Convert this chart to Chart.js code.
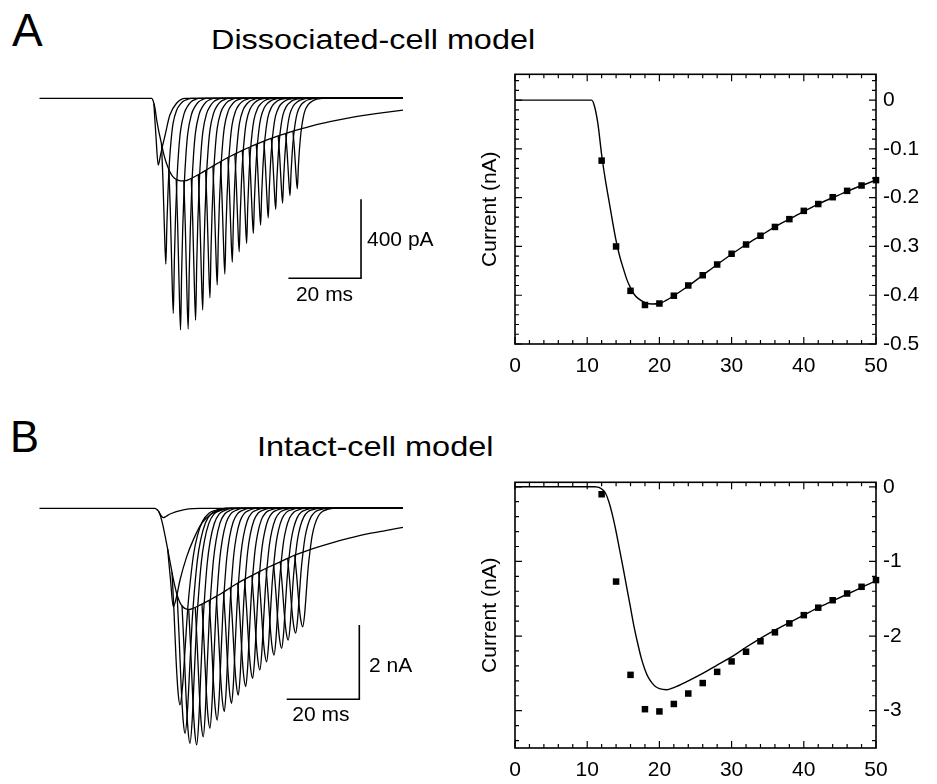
<!DOCTYPE html>
<html>
<head>
<meta charset="utf-8">
<script src="https://cdn.jsdelivr.net/npm/chart.js@4.4.1/dist/chart.umd.min.js"></script>
<style>
  body { margin: 0; background: #fff; }
  #fig { position: relative; width: 937px; height: 784px; overflow: hidden;
         font-family: "Liberation Sans", Arial, Helvetica, sans-serif; color: #000; }
  #fig canvas { position: absolute; }
  .lbl { position: absolute; line-height: 1; white-space: nowrap; transform-origin: 0 0; }
</style>
</head>
<body>
<div id="fig">
  <div class="lbl" style="left:12px;top:7px;font-size:46px">A</div>
  <div class="lbl" style="left:211px;top:27px;font-size:27px;transform:scaleX(1.2)">Dissociated-cell model</div>
  <div class="lbl" style="left:10px;top:416px;font-size:43.5px">B</div>
  <div class="lbl" style="left:257px;top:433px;font-size:28px;transform:scaleX(1.16)">Intact-cell model</div>
  <canvas id="tracesA" width="421" height="255" style="left:39px;top:85px"></canvas>
  <canvas id="fitA" width="477" height="340" style="left:460px;top:40px"></canvas>
  <canvas id="tracesB" width="421" height="275" style="left:39px;top:495px"></canvas>
  <canvas id="fitB" width="477" height="344" style="left:460px;top:440px"></canvas>
</div>
<script>
// ---- data (time in ms, current in nA) ----

// slow (long step) current, also the solid line of the right panels
const slowA_t = [-20.3, 0, 10, 10.6, 11, 11.5, 12, 12.5, 13, 13.5, 14, 14.5, 15, 15.5, 16, 16.5, 17, 18, 19, 20, 21, 22,
  24, 26, 28, 30, 32, 34, 36, 38, 40, 42, 44, 46, 48, 50, 55, 60, 65, 70, 75, 79.8];
const slowA_i = [0, 0, 0, 0, -0.012, -0.05, -0.112, -0.162, -0.205, -0.248, -0.288, -0.32, -0.345, -0.368, -0.385, -0.398, -0.406, -0.415, -0.418, -0.417, -0.41, -0.401,
  -0.381, -0.359, -0.337, -0.316, -0.296, -0.278, -0.26, -0.244, -0.228, -0.213, -0.2, -0.187, -0.175, -0.164, -0.138, -0.117, -0.099, -0.084, -0.071, -0.06];

const slowB_t = [-20.3, 0, 11, 11.5, 12, 12.5, 13, 13.5, 14, 14.5, 15, 15.5, 16, 16.5, 17, 17.5, 18, 18.5, 19, 19.5, 20, 21, 22,
  24, 26, 28, 30, 32, 34, 36, 38, 40, 42, 44, 46, 48, 50, 55, 60, 65, 70, 75, 79.8];
const slowB_i = [0, 0, 0, -0.005, -0.03, -0.08, -0.2, -0.38, -0.6, -0.85, -1.1, -1.36, -1.62, -1.88, -2.1, -2.3, -2.45, -2.56, -2.63, -2.68, -2.705, -2.72, -2.69,
  -2.6, -2.5, -2.39, -2.28, -2.15, -2.03, -1.92, -1.82, -1.72, -1.62, -1.53, -1.44, -1.35, -1.26, -1.085, -0.935, -0.805, -0.69, -0.6, -0.515];

// tail currents after each step (peak time, peak current)
const tailA_t = [14.5, 16.55, 18.55, 20.65, 22.7, 24.65, 26.65, 28.65, 30.75, 32.8, 34.7, 36.75, 38.6, 40.6, 42.7, 44.75, 46.65, 48.7, 50.7];
const tailA_i = [-0.84, -1.089, -1.173, -1.168, -1.123, -1.072, -1.01, -0.945, -0.89, -0.83, -0.777, -0.734, -0.684, -0.642, -0.605, -0.562, -0.532, -0.493, -0.459];
const tailB_t = [18.4, 19.8, 21.15, 23.0, 24.8, 26.65, 28.65, 30.6, 32.6, 34.45, 36.5, 38.4, 40.4, 42.25, 44.3, 46.4, 48.2, 50.25, 52.2];
const tailB_i = [-5.29, -6.06, -6.33, -6.37, -6.15, -5.92, -5.7, -5.47, -5.25, -5.03, -4.8, -4.58, -4.35, -4.13, -3.95, -3.77, -3.55, -3.36, -3.19];
// early intact-cell tails die away more slowly
const tailB_slow = [1.45, 1.3, 1.2, 1.12, 1.07, 1.04, 1.02, 1, 1, 1, 1, 1, 1, 1, 1, 1, 1, 1, 1];

// tail shape: onset (ms before peak, fraction of the jump) and decay (ms after peak, fraction of peak)
const riseA_dt = [-1.2, -0.8, -0.4, 0];
const riseA_f = [0, 0.3, 0.7, 1];
const decayA_dt = [0, 0.3, 0.6, 1.0, 1.5, 2.0, 3.0, 4.0, 5.0, 6.0, 7.0];
const decayA_f = [1, 0.75, 0.56, 0.38, 0.24, 0.15, 0.07, 0.035, 0.015, 0.006, 0];
const riseB_dt = [-2.2, -1.65, -1.1, -0.55, 0];
const riseB_f = [0, 0.3, 0.65, 0.9, 1];
const decayB_dt = [0, 0.5, 1.0, 1.5, 2.0, 2.6, 3.3, 4.3, 5.5, 6.8, 8.5];
const decayB_f = [1, 0.9, 0.7, 0.5, 0.36, 0.23, 0.14, 0.065, 0.025, 0.01, 0];

// the shortest steps, traced point by point
const firstA_t = [11.2, 11.8, 12.4, 13.0, 13.6, 14.3, 15.6, 17.5, 19.8];
const firstA_i = [-0.027, -0.2, -0.338, -0.29, -0.24, -0.186, -0.085, -0.024, 0];
const firstB_t = [12.5, 13.2, 13.8, 14.5, 15.5, 17, 18.5, 20, 22, 24];
const firstB_i = [-0.08, -0.2, -0.25, -0.22, -0.16, -0.1, -0.06, -0.03, -0.01, 0];
const secondB_t = [15.0, 15.8, 16.55, 17.4, 18.4, 20.25, 22.05, 24.4, 26.65, 28.5, 30.8, 32.7];
const secondB_i = [-1.1, -1.95, -2.65, -2.4, -1.93, -1.3, -0.85, -0.4, -0.18, -0.09, -0.02, 0];

// squares of the right panels
const squareT = [12, 14, 16, 18, 20, 22, 24, 26, 28, 30, 32, 34, 36, 38, 40, 42, 44, 46, 48, 50];
const squareA = [-0.124, -0.3, -0.391, -0.42, -0.417, -0.401, -0.38, -0.359, -0.337, -0.315, -0.296, -0.278, -0.26, -0.244, -0.227, -0.213, -0.199, -0.186, -0.175, -0.164];
const squareB = [-0.1, -1.27, -2.52, -2.98, -3.01, -2.91, -2.77, -2.63, -2.48, -2.34, -2.21, -2.07, -1.95, -1.83, -1.72, -1.62, -1.52, -1.43, -1.34, -1.25];

// axes of the right panels
const xTicks = [0, 10, 20, 30, 40, 50];
const xTickLabels = ['0', '10', '20', '30', '40', '50'];
const yTicksA = [0, -0.1, -0.2, -0.3, -0.4, -0.5];
const yTickLabelsA = ['0', '-0.1', '-0.2', '-0.3', '-0.4', '-0.5'];
const yTicksB = [0, -1, -2, -3];
const yTickLabelsB = ['0', '-1', '-2', '-3'];

const FONT = '"Liberation Sans", Arial, Helvetica, sans-serif';
const T_END = 79.8;

function pts(ts, is) { return ts.map((t, k) => ({ x: t, y: is[k] })); }

// current of the slow trace at t, only used to join a tail onto it
function slowAt(ts, is, t) {
  for (let k = 1; k < ts.length; k++) {
    if (t <= ts[k]) {
      const f = (t - ts[k - 1]) / (ts[k] - ts[k - 1]);
      return is[k - 1] + f * (is[k] - is[k - 1]);
    }
  }
  return is[is.length - 1];
}

function tail(slowT, slowI, tp, peak, rDt, rF, dDt, dF, stretch) {
  const i0 = slowAt(slowT, slowI, tp + rDt[0]);
  const out = rDt.map((d, k) => ({ x: tp + d, y: i0 + (peak - i0) * rF[k] }));
  dDt.forEach((d, k) => { if (k > 0) out.push({ x: tp + d * stretch, y: peak * dF[k] }); });
  out.push({ x: T_END, y: 0 });
  return out;
}

function traceSet(lines) {
  return lines.map(d => ({
    data: d, showLine: true, pointRadius: 0, borderColor: '#000', borderWidth: 1.3,
    cubicInterpolationMode: 'monotone', fill: false
  }));
}

// scale bar and its labels, placed in data units
const scaleBar = {
  id: 'scaleBar',
  afterDatasetsDraw(chart, args, o) {
    const { ctx, scales: { x, y } } = chart;
    const xr = x.getPixelForValue(o.t), x0 = x.getPixelForValue(o.t - o.dt);
    const yb = y.getPixelForValue(o.i), yt = y.getPixelForValue(o.i + o.di);
    ctx.save();
    ctx.strokeStyle = '#000';
    ctx.lineWidth = 1.6;
    ctx.beginPath();
    ctx.moveTo(x0, yb); ctx.lineTo(xr, yb); ctx.lineTo(xr, yt);
    ctx.stroke();
    ctx.fillStyle = '#000';
    ctx.font = '21px ' + FONT;
    ctx.textBaseline = 'middle';
    ctx.textAlign = 'left';
    ctx.fillText(o.yText, x.getPixelForValue(o.yTextT), y.getPixelForValue(o.yTextI));
    ctx.textAlign = 'center';
    ctx.fillText(o.xText, x.getPixelForValue(o.xTextT), y.getPixelForValue(o.xTextI));
    ctx.restore();
  }
};

// box with inward ticks on all four sides
const frameTicks = {
  id: 'frameTicks',
  afterDatasetsDraw(chart, args, o) {
    const { ctx, chartArea: a, scales: { x, y } } = chart;
    ctx.save();
    ctx.strokeStyle = '#000';
    ctx.lineWidth = 1.2;
    ctx.beginPath();
    const xt = (v, len) => { const p = x.getPixelForValue(v); ctx.moveTo(p, a.bottom); ctx.lineTo(p, a.bottom - len); ctx.moveTo(p, a.top); ctx.lineTo(p, a.top + len); };
    const yt = (v, len) => { const p = y.getPixelForValue(v); ctx.moveTo(a.left, p); ctx.lineTo(a.left + len, p); ctx.moveTo(a.right, p); ctx.lineTo(a.right - len, p); };
    for (let v = 0; v <= 50; v += 2) xt(v, v % 10 === 0 ? 7 : 4);
    for (let k = Math.ceil(y.min / o.yMinor); k * o.yMinor <= y.max; k++) {
      const v = k * o.yMinor;
      const major = Math.abs(v / o.yMajor - Math.round(v / o.yMajor)) < 1e-6;
      yt(v, major ? 7 : 4);
    }
    ctx.stroke();
    ctx.lineWidth = 1.6;
    ctx.strokeRect(a.left, a.top, a.right - a.left, a.bottom - a.top);
    ctx.restore();
  }
};

function traceChart(id, datasets, xMin, xMax, yMin, yMax, bar) {
  return new Chart(document.getElementById(id), {
    type: 'scatter',
    data: { datasets },
    options: {
      responsive: false, animation: false, events: [],
      layout: { padding: 0 },
      plugins: { legend: { display: false }, tooltip: { enabled: false }, scaleBar: bar },
      scales: {
        x: { type: 'linear', display: false, min: xMin, max: xMax },
        y: { type: 'linear', display: false, min: yMin, max: yMax }
      }
    },
    plugins: [scaleBar]
  });
}

function fitChart(id, lineT, lineI, sq, yMin, yMax, yTicks, yLabels, yMinor, yMajor, top) {
  const tickFont = { family: FONT, size: 21 };
  return new Chart(document.getElementById(id), {
    type: 'scatter',
    data: {
      datasets: [
        { data: pts(lineT, lineI), showLine: true, pointRadius: 0, borderColor: '#000', borderWidth: 1.4,
          cubicInterpolationMode: 'monotone', yAxisID: 'y' },
        { data: pts(squareT, sq), pointStyle: 'rect', pointRadius: 4.6, backgroundColor: '#000',
          borderWidth: 0, clip: false, yAxisID: 'y' }
      ]
    },
    options: {
      responsive: false, animation: false, events: [],
      layout: { padding: { top: top, left: 0, right: 0, bottom: 0 } },
      plugins: { legend: { display: false }, tooltip: { enabled: false }, frameTicks: { yMinor, yMajor } },
      scales: {
        x: {
          type: 'linear', position: 'bottom', min: 0, max: 50,
          afterBuildTicks: ax => { ax.ticks = xTicks.map(v => ({ value: v })); },
          afterFit: ax => { ax.height = 36; },
          grid: { display: false, drawTicks: false }, border: { display: false },
          ticks: { color: '#000', font: tickFont, padding: 10, autoSkip: false, maxRotation: 0,
                   callback: (v, k) => xTickLabels[k] }
        },
        y: {
          type: 'linear', position: 'right', min: yMin, max: yMax,
          afterBuildTicks: ax => { ax.ticks = yTicks.map(v => ({ value: v })); },
          afterFit: ax => { ax.width = 61; },
          grid: { display: false, drawTicks: false }, border: { display: false },
          ticks: { color: '#000', font: tickFont, padding: 7, autoSkip: false,
                   callback: (v, k) => yLabels[k] }
        },
        yl: {
          type: 'linear', position: 'left', min: yMin, max: yMax,
          afterFit: ax => { ax.width = 55; },
          grid: { display: false, drawTicks: false }, border: { display: false },
          ticks: { display: false },
          title: { display: true, text: 'Current (nA)', color: '#000', font: { family: FONT, size: 21 },
                   padding: { top: 18, bottom: 0 } }
        }
      }
    },
    plugins: [frameTicks]
  });
}

// ---- panel A ----
const linesA = [pts(slowA_t, slowA_i), pts(firstA_t, firstA_i).concat([{ x: T_END, y: 0 }])];
tailA_t.forEach((t, k) => linesA.push(tail(slowA_t, slowA_i, t, tailA_i[k], riseA_dt, riseA_f, decayA_dt, decayA_f, 1)));
traceChart('tracesA', traceSet(linesA), -20.435, 95.51, -1.2238, 0.0673,
  { t: 68.25, i: -0.911, dt: 20, di: 0.4, yText: '400 pA', yTextT: 69.9, yTextI: -0.72, xText: '20 ms', xTextT: 58.2, xTextI: -0.995 });
fitChart('fitA', slowA_t, slowA_i, squareA, -0.5, 0.053, yTicksA, yTickLabelsA, 0.02, 0.1, 34.3);

// ---- panel B ----
const linesB = [pts(slowB_t, slowB_i), pts(firstB_t, firstB_i).concat([{ x: T_END, y: 0 }]),
  pts(secondB_t, secondB_i).concat([{ x: T_END, y: 0 }])];
tailB_t.forEach((t, k) => linesB.push(tail(slowB_t, slowB_i, t, tailB_i[k], riseB_dt, riseB_f, decayB_dt, decayB_f, tailB_slow[k])));
traceChart('tracesB', traceSet(linesB), -20.435, 95.51, -7.044, 0.358,
  { t: 67.78, i: -5.14, dt: 20, di: 2, yText: '2 nA', yTextT: 70.45, yTextI: -4.245, xText: '20 ms', xTextT: 57.2, xTextI: -5.58 });
fitChart('fitB', slowB_t, slowB_i, squareB, -3.5, 0.06, yTicksB, yTickLabelsB, 0.2, 1, 42.3);
</script>
</body>
</html>
